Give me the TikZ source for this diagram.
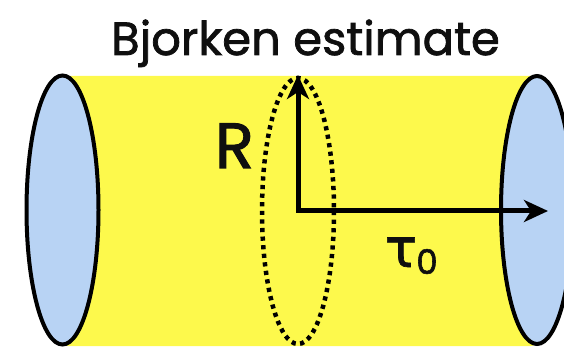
\documentclass[tikz,border=0pt]{standalone}
\usepackage{fontspec}
\setmainfont{Poppins}[FakeBold=1.6]
\newfontfamily\greekfont{DejaVu Sans}[FakeBold=1.2]
\usetikzlibrary{arrows.meta}
\definecolor{tubeyellow}{RGB}{253,249,76}
\definecolor{capblue}{RGB}{184,211,244}
\definecolor{inkblack}{RGB}{15,15,15}
\begin{document}
\begin{tikzpicture}[x=1pt,y=-1pt,
  capface/.style={draw=black, line width=4pt, fill=capblue},
  slice/.style={draw=black, line width=4.5pt, dash pattern=on 4.2pt off 4.4pt},
  axes/.style={line width=5pt, line join=miter,
    {Stealth[length=24pt,width=22pt,inset=7pt]}-{Stealth[length=24pt,width=22pt,inset=7pt]}},
  label/.style={inner sep=0pt, anchor=base, text=inkblack}]
\useasboundingbox (0,0) rectangle (564,347);
\clip (0,0) rectangle (564,347);
% tube body
\fill[tubeyellow, rounded corners=6pt] (62,76) rectangle (537,346);
% end caps
\draw[capface] (62.5,210) ellipse [x radius=36, y radius=134.5];
\draw[capface] (537,210) ellipse [x radius=36, y radius=134];
% transverse slice
\draw[slice] (298,211) ellipse [x radius=36, y radius=133];
% axes
\coordinate (o) at (298,211);
\coordinate (rtip) at (298,75);
\coordinate (ttip) at (548,211);
\draw[axes] (rtip) -- (o) -- (ttip);
% labels
\node[label] (title) at (305.5,55) {\fontsize{46.5}{46.5}\selectfont Bjorken estimate};
\node[label] (rlab) at (234.5,168) {\fontsize{64}{64}\selectfont R};
\node[label] (taulab) at (401,267) {\greekfont\fontsize{54}{54}\selectfont τ};
\node[label] (zerolab) at (427,274) {\fontsize{34}{34}\selectfont 0};
\end{tikzpicture}
\end{document}
